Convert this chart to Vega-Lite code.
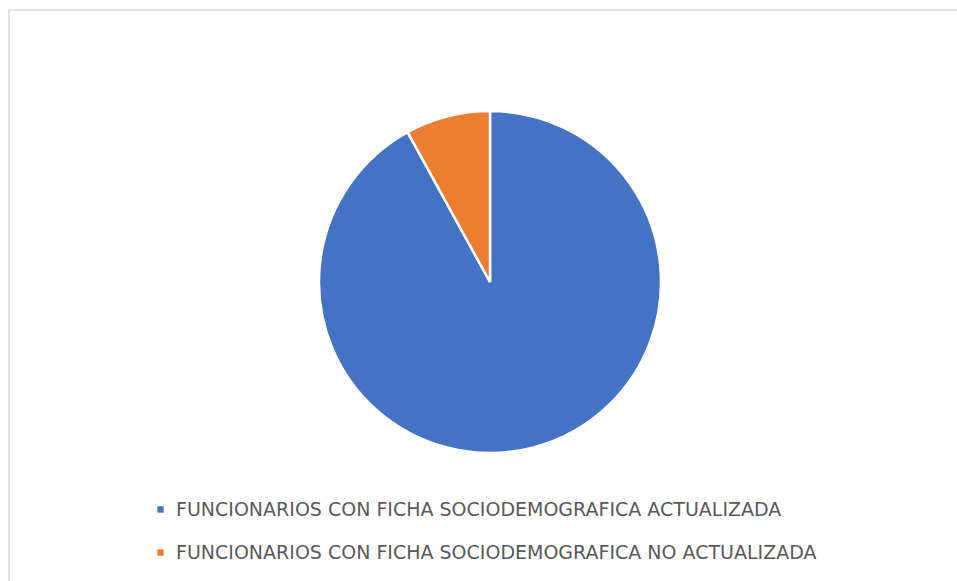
{
  "$schema": "https://vega.github.io/schema/vega-lite/v6.json",
  "width": 962,
  "height": 600,
  "autosize": {"type": "none"},
  "padding": {"left": 9, "top": 10, "right": 0, "bottom": 0},
  "background": "white",
  "view": {"stroke": "#d9d9d9", "strokeWidth": 1.5, "fill": "white"},
  "data": {
    "values": [
      {"categoria": "FUNCIONARIOS CON FICHA SOCIODEMOGRAFICA ACTUALIZADA", "valor": 92, "orden": 1},
      {"categoria": "FUNCIONARIOS CON FICHA SOCIODEMOGRAFICA NO ACTUALIZADA", "valor": 8, "orden": 2}
    ]
  },
  "mark": {
    "type": "arc",
    "radius": 171,
    "stroke": "white",
    "strokeWidth": 2.5,
    "x": {"expr": "width/2"},
    "y": {"expr": "height/2 - 28"}
  },
  "encoding": {
    "theta": {"field": "valor", "type": "quantitative", "stack": true},
    "order": {"field": "orden", "type": "quantitative"},
    "color": {
      "field": "categoria",
      "type": "nominal",
      "sort": null,
      "scale": {"range": ["#4472c4", "#ed7d31"]},
      "legend": {
        "title": null,
        "orient": "none",
        "legendX": 142,
        "legendY": 488,
        "direction": "vertical",
        "symbolType": "square",
        "symbolSize": 40,
        "symbolStrokeWidth": 0,
        "labelFont": "DejaVu Sans",
        "labelFontSize": 19,
        "labelColor": "#595959",
        "labelLimit": 800,
        "labelOffset": 6,
        "rowPadding": 20,
        "clipHeight": 23
      }
    }
  }
}
